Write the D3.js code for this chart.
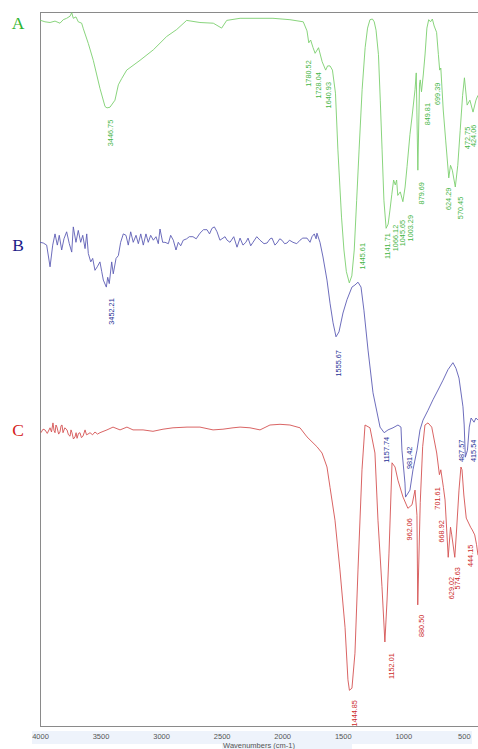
<!DOCTYPE html>
<html>
<head>
<meta charset="utf-8">
<script src="https://cdn.jsdelivr.net/npm/d3@7"></script>
<style>
  html, body { margin: 0; padding: 0; background: #fff; }
  svg { display: block; }
</style>
</head>
<body>
<svg id="chart" width="478" height="749"></svg>
<script>
// FTIR spectra A, B, C, stacked on a common wavenumber axis.
// Each series: [wavenumber (cm-1), stacked transmittance units]
const wavenumberTicks = [4000, 3500, 3000, 2500, 2000, 1500, 1000, 500];

const spectrumA = [
  [4000,100.7],[3994,100.8],[3959,100.6],[3917,100.5],[3876,100.7],[3835,100.4],[3808,100.9],
  [3780,101.1],[3752,101.4],[3738,101.9],[3725,101.1],[3703,101.3],[3684,100.6],[3656,100.4],
  [3642,99.6],[3601,97.5],[3560,95.1],[3505,91.1],[3463,88.5],[3446.75,88.3],[3422,88.4],
  [3381,89.4],[3353,91.6],[3325,92.5],[3284,93.7],[3174,95.1],[3064,96.6],[2954,98.5],
  [2871,99.5],[2789,100.8],[2679,100.5],[2569,100.4],[2500,99.7],[2458,100.8],[2348,101.1],
  [2076,101.1],[1936,100.9],[1826,100.6],[1795,99.3],[1780.52,97.6],[1765,98.0],[1745,96.9],
  [1728.04,96.1],[1700,96.9],[1670,94.9],[1640.93,93.7],[1625,94.3],[1605,94.3],[1585,93.7],
  [1560,90.4],[1540,82.3],[1510,72.7],[1490,68.0],[1470,64.9],[1445.61,63.3],[1425,64.3],
  [1405,68.0],[1385,75.1],[1365,82.3],[1340,90.9],[1315,96.9],[1295,99.7],[1275,100.9],
  [1255,101.0],[1240,100.6],[1225,99.4],[1205,95.9],[1190,89.4],[1175,82.3],[1160,75.1],
  [1141.71,71.1],[1125,71.7],[1110,73.7],[1095,75.9],[1080,78.0],[1066.12,77.3],[1055,78.0],
  [1045.65,75.8],[1025,76.3],[1003.29,74.9],[985,77.0],[969,79.9],[945,84.5],[928,87.0],
  [903,90.9],[893,93.3],[879.69,79.4],[866,91.7],[860,92.3],[849.81,90.6],[835,93.0],
  [820,96.0],[805,99.7],[790,100.9],[775,100.6],[760,101.0],[745,100.0],[725,99.1],
  [710,95.9],[699.39,93.7],[690,94.0],[670,88.0],[650,83.7],[624.29,78.3],[610,80.1],
  [595,79.4],[570.45,77.0],[550,80.1],[530,85.1],[510,90.1],[495,92.6],[472.75,88.7],
  [450,89.4],[424.06,87.7],[400,89.4],[383,90.1]
];

const spectrumB = [
  [4000,69.1],[3973,69.0],[3945,68.7],[3917,65.6],[3895,68.7],[3876,70.3],[3857,68.7],
  [3841,70.1],[3821,68.0],[3802,69.6],[3780,70.6],[3758,68.9],[3738,67.7],[3725,71.3],
  [3703,69.1],[3684,70.8],[3664,69.1],[3647,70.1],[3628,68.2],[3614,70.3],[3601,67.5],
  [3581,66.3],[3565,66.8],[3546,65.1],[3527,65.6],[3505,66.3],[3490,64.9],[3477,63.7],
  [3452.21,62.7],[3441,64.1],[3428,63.2],[3408,66.3],[3395,64.6],[3372,66.8],[3353,67.2],
  [3334,69.1],[3312,70.3],[3290,70.1],[3271,68.7],[3251,70.6],[3230,69.1],[3207,70.1],
  [3188,68.9],[3168,70.3],[3147,68.7],[3125,70.3],[3106,69.1],[3086,70.1],[3064,69.4],
  [3042,69.9],[3023,68.9],[3009,71.0],[2987,69.1],[2968,69.1],[2940,68.9],[2921,70.1],
  [2899,69.4],[2877,68.0],[2858,69.1],[2838,68.6],[2817,69.4],[2789,69.6],[2767,69.9],
  [2737,69.9],[2710,69.6],[2679,70.4],[2650,70.9],[2621,70.9],[2600,70.3],[2580,71.1],
  [2560,71.3],[2538,70.6],[2514,69.4],[2472,69.9],[2455,69.4],[2431,69.1],[2400,69.9],
  [2373,68.4],[2348,69.7],[2324,68.7],[2300,69.1],[2282,69.7],[2260,68.6],[2241,69.1],
  [2210,69.9],[2183,69.4],[2150,68.9],[2125,69.0],[2100,69.6],[2084,69.7],[2060,68.7],
  [2043,69.0],[2020,69.6],[2002,69.4],[1980,68.9],[1960,69.0],[1940,69.4],[1911,69.1],
  [1880,68.9],[1853,69.4],[1830,69.7],[1795,69.7],[1770,69.1],[1754,69.9],[1735,70.3],
  [1720,69.6],[1713,70.4],[1688,69.1],[1663,67.0],[1630,63.7],[1605,60.4],[1580,57.6],
  [1564,56.3],[1555.67,55.6],[1531,56.3],[1498,59.0],[1465,60.9],[1424,62.7],[1399,63.0],
  [1374,63.4],[1349,62.7],[1325,59.4],[1291,53.7],[1250,47.6],[1192,42.7],[1157.74,41.9],
  [1126,42.3],[1085,42.6],[1044,43.0],[1019,42.7],[1011,39.4],[986,34.7],[981.42,32.7],
  [945,33.7],[920,36.6],[887,39.4],[862,42.3],[837,43.7],[796,45.1],[755,46.6],[713,48.0],
  [672,49.4],[631,50.9],[590,51.9],[565,51.1],[540,49.7],[507,45.6],[497,43.0],[487.57,38.4],
  [470,39.4],[455,42.7],[440,44.0],[415.54,43.4],[400,44.0],[383,43.7]
];

const spectrumC = [
  [3992,41.9],[3975,42.4],[3959,42.3],[3940,41.8],[3917,42.6],[3905,42.0],[3893,43.3],
  [3884,42.2],[3876,41.9],[3868,43.0],[3860,42.7],[3846,41.7],[3835,42.0],[3826,42.9],
  [3818,43.0],[3810,41.9],[3795,42.6],[3777,42.3],[3765,41.6],[3752,41.4],[3744,42.3],
  [3736,41.9],[3724,41.0],[3711,41.3],[3702,41.9],[3694,41.1],[3682,41.8],[3670,41.9],
  [3658,41.2],[3645,41.4],[3628,42.3],[3616,41.6],[3604,41.7],[3587,41.9],[3566,41.6],
  [3546,42.0],[3525,41.7],[3505,41.9],[3447,42.3],[3397,42.7],[3339,42.3],[3282,42.7],
  [3232,42.3],[3149,42.3],[3067,42.1],[2984,42.4],[2902,42.6],[2786,42.7],[2679,42.7],
  [2571,42.3],[2489,42.4],[2406,42.6],[2348,42.7],[2266,42.6],[2183,42.3],[2101,43.0],
  [2018,43.1],[1936,43.0],[1853,42.6],[1795,41.3],[1754,40.6],[1713,39.9],[1671,39.0],
  [1630,37.0],[1605,34.1],[1564,29.4],[1523,22.3],[1481,14.1],[1457,6.6],[1444.85,5.1],
  [1424,5.4],[1399,10.4],[1374,22.3],[1341,36.6],[1316,43.0],[1275,42.6],[1234,39.0],
  [1209,29.4],[1176,19.9],[1152.01,12.0],[1134,18.0],[1118,24.7],[1093,37.6],[1068,37.0],
  [1044,35.1],[1002,32.7],[962.06,31.1],[928,31.6],[903,33.7],[887,30.1],[880.50,17.3],
  [860,31.9],[840,39.9],[821,43.0],[796,43.3],[765,42.7],[724,39.0],[701.61,35.9],
  [690,36.6],[668.92,34.1],[655,32.3],[629.02,24.1],[610,28.4],[600,27.3],[574.63,24.1],
  [560,28.0],[540,33.7],[524,37.0],[515,36.6],[500,33.0],[480,29.7],[444.15,28.4],
  [430,28.0],[410,27.3],[395,25.9],[383,24.4]
];

// Peak annotations: [wavenumber, top of label in y units, sideways nudge in px]
const peaksA = [
  [3446.75,86.6,3],[1780.52,95.1,0],[1728.04,93.4,3],[1640.93,92.0,3],[1445.61,69.0,13],
  [1141.71,70.4,1],[1066.12,71.6,0],[1045.65,72.3,5],[1003.29,73.0,8],[879.69,77.7,4],
  [849.81,89.0,5.5],[699.39,91.9,-2.5],[624.29,76.9,0],[570.45,75.6,5],[472.75,85.6,0],
  [424.06,85.9,0]
];
const peaksB = [
  [3452.21,61.1,5.5],[1555.67,53.7,2],[1157.74,41.3,2],[981.42,39.9,3.5],[487.57,40.9,-4],
  [415.54,40.9,-0.8]
];
const peaksC = [
  [1444.85,3.7,5.5],[1152.01,10.4,7],[962.06,29.7,2],[880.50,15.9,4],[701.61,34.1,-1.5],
  [668.92,29.4,-1.5],[629.02,21.3,3],[574.63,22.7,3],[444.15,25.9,0]
];

const seriesNames = ["A", "B", "C"];
const seriesLevels = [100.4, 68.7, 42.3];

const svg = d3.select("#chart");
const margin = { left: 40, top: 12, bottom: 726, right: 478 };

const x = d3.scaleLinear().domain([4000, 383]).range([margin.left, margin.right]);
const y = d3.scaleLinear().domain([0, 102]).range([margin.bottom, margin.top]);

const styles = [
  { line: "#7ccf6e", label: "#45b545", letter: "#2fb52f" },
  { line: "#5c5cb4", label: "#262f96", letter: "#1c1c8a" },
  { line: "#d55252", label: "#cc2828", letter: "#d42020" }
];

// faint highlight behind the axis text
svg.append("rect").attr("x", 32).attr("y", 731).attr("width", 440).attr("height", 13)
  .attr("fill", "#eef3fb");
svg.append("rect").attr("x", 222).attr("y", 743).attr("width", 130).attr("height", 6)
  .attr("fill", "#eef3fb");

// plot frame
svg.append("rect")
  .attr("x", margin.left + 0.5).attr("y", margin.top + 0.5)
  .attr("width", 460).attr("height", margin.bottom - margin.top)
  .attr("fill", "none").attr("stroke", "#8a8a8a").attr("stroke-width", 1);

// x axis
const axis = d3.axisBottom(x).tickValues(wavenumberTicks).tickSize(0).tickPadding(8)
  .tickFormat(d3.format("d"));
const gx = svg.append("g").attr("transform", `translate(0,${margin.bottom})`).call(axis);
gx.select(".domain").remove();
gx.selectAll("text").attr("font-family", "Liberation Sans, Arial, sans-serif")
  .attr("font-size", 7.5).attr("fill", "#555");

svg.append("text").attr("x", (margin.left + margin.right) / 2).attr("y", 748)
  .attr("text-anchor", "middle").attr("font-family", "Liberation Sans, Arial, sans-serif")
  .attr("font-size", 7.5).attr("fill", "#555").text("Wavenumbers (cm-1)");

const line = d3.line().x(d => x(d[0])).y(d => y(d[1]));

const plot = svg.append("g");
[spectrumA, spectrumB, spectrumC].forEach((s, i) => {
  plot.append("path").datum(s)
    .attr("d", line)
    .attr("fill", "none")
    .attr("stroke", styles[i].line)
    .attr("stroke-width", 0.9)
    .attr("stroke-linejoin", "round");
});

// peak labels, rotated to read upwards
[peaksA, peaksB, peaksC].forEach((peaks, i) => {
  plot.selectAll(null).data(peaks).enter().append("text")
    .attr("transform", d => `translate(${x(d[0]) + d[2]},${y(d[1])}) rotate(-90)`)
    .attr("text-anchor", "end")
    .attr("dy", "0.35em")
    .attr("font-family", "Liberation Sans, Arial, sans-serif")
    .attr("font-size", 7.3)
    .attr("fill", styles[i].label)
    .text(d => d[0].toFixed(2));
});

// series letters
seriesNames.forEach((n, i) => {
  svg.append("text")
    .attr("x", 18).attr("y", y(seriesLevels[i]))
    .attr("dy", "0.35em")
    .attr("text-anchor", "middle")
    .attr("font-family", "Liberation Serif, Times New Roman, serif")
    .attr("font-size", 17.5)
    .attr("fill", styles[i].letter)
    .text(n);
});
</script>
</body>
</html>
